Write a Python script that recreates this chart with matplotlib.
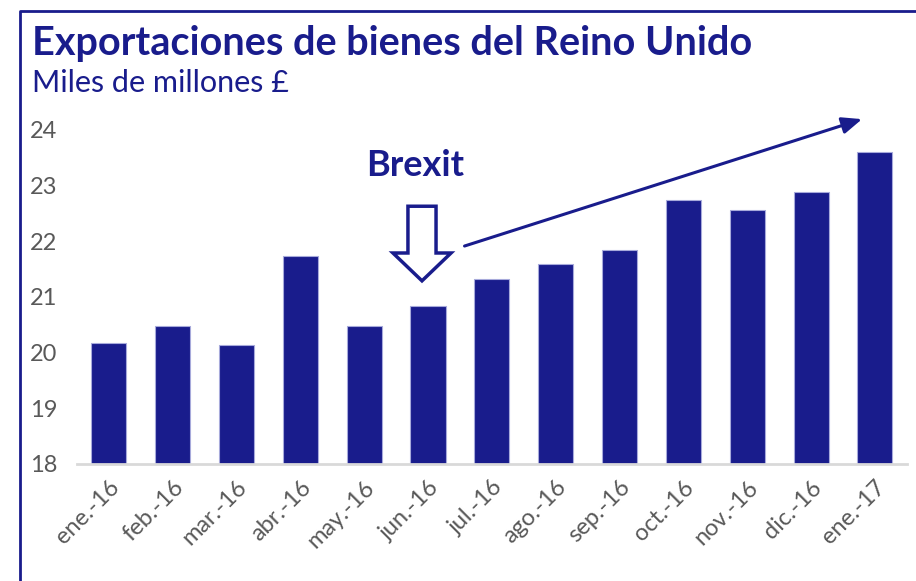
import numpy as np
import matplotlib.pyplot as plt
from matplotlib.patches import FancyArrow
from matplotlib.lines import Line2D

months = ['ene.-16', 'feb.-16', 'mar.-16', 'abr.-16', 'may.-16', 'jun.-16',
          'jul.-16', 'ago.-16', 'sep.-16', 'oct.-16', 'nov.-16', 'dic.-16', 'ene.-17']
exports = [20.17, 20.48, 20.14, 21.73, 20.48, 20.83,
           21.32, 21.60, 21.84, 22.75, 22.57, 22.88, 23.61]
yticks = [18, 19, 20, 21, 22, 23, 24]

blue = '#191c8c'
grey = '#595959'
plt.rcParams['font.family'] = ['Lato', 'DejaVu Sans']

fig = plt.figure(figsize=(9.16, 5.81), dpi=100)
ax = fig.add_axes([0.084, 0.2014, 0.906, 0.5749])

x = np.arange(len(months))
ax.bar(x, exports, width=0.55, bottom=0, color=blue, edgecolor='#a7aadb', linewidth=0.8, zorder=2)
ax.set_xlim(-0.5, len(months) - 0.5)
ax.set_ylim(18, 24)
ax.set_yticks(yticks)
ax.set_xticks(x)
ax.set_xticklabels(months, rotation=45, ha='right', va='top', rotation_mode='anchor')
ax.tick_params(axis='y', length=0, pad=14, labelsize=17, labelcolor=grey)
ax.tick_params(axis='x', length=0, pad=9, labelsize=17, labelcolor=grey)
for s in ['top', 'right', 'left']:
    ax.spines[s].set_visible(False)
ax.spines['bottom'].set_color('#d9d9d9')
ax.spines['bottom'].set_linewidth(2)

# brexit marker
ax.text(4.8, 23.37, 'Brexit', ha='center', va='center', fontsize=26, fontweight='bold', color=blue)
ax.add_patch(FancyArrow(4.905, 22.63, 0, -1.34, width=0.44, head_width=0.91, head_length=0.5,
                        length_includes_head=True, fill=False, edgecolor=blue, linewidth=2.5,
                        clip_on=False, zorder=3))

# trend arrow
ax.annotate('', xy=(11.84, 24.21), xytext=(5.53, 21.90), annotation_clip=False,
            arrowprops=dict(arrowstyle='-|>,head_length=1.2,head_width=0.5', color=blue, lw=2.2))

fig.text(0.035, 0.925, 'Exportaciones de bienes del Reino Unido', fontsize=28.5, fontweight='bold',
         color=blue, ha='left', va='center')
fig.text(0.035, 0.858, 'Miles de millones £', fontsize=22, color=blue, ha='left', va='center')

# frame
fig.add_artist(Line2D([20 / 916, 20 / 916, 1], [0, 1 - 11 / 581, 1 - 11 / 581],
                      transform=fig.transFigure, color=blue, linewidth=2))

fig.savefig('out.png', dpi=100)
